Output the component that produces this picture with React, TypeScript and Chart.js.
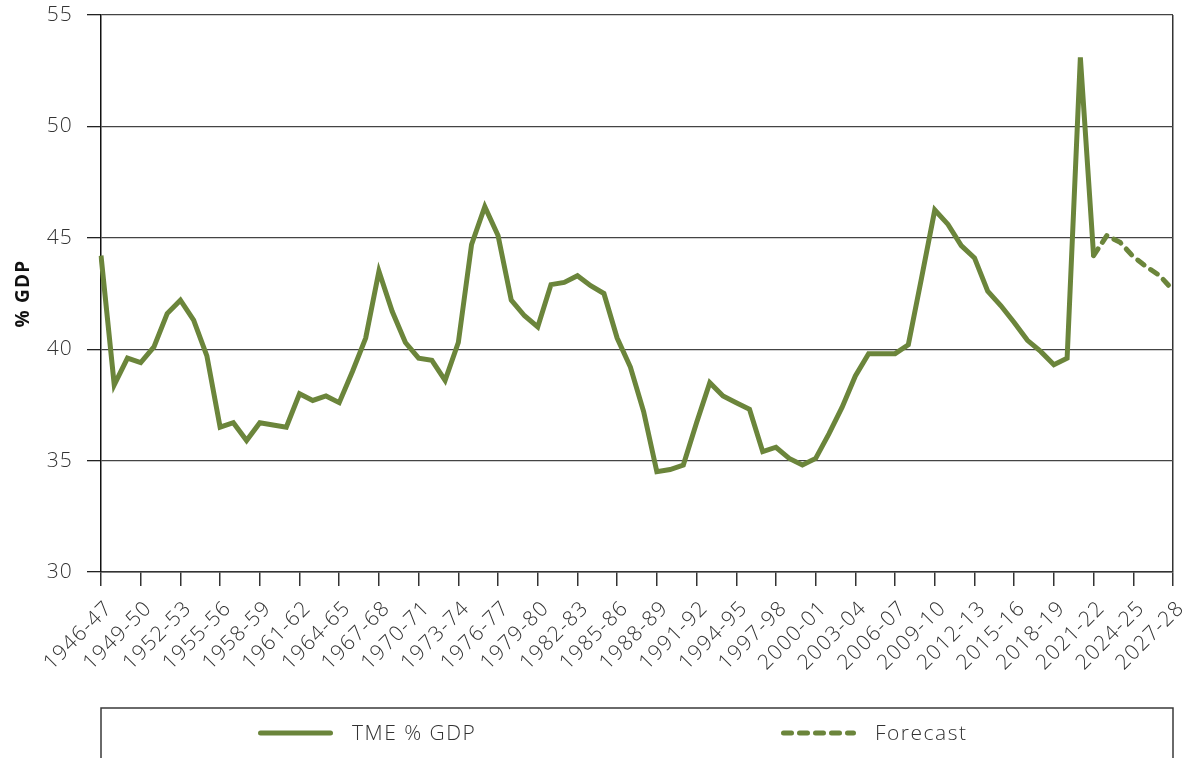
import { useEffect, useRef } from "react";
import { Chart, registerables } from "chart.js";

Chart.register(...registerables);

// ---------- data ----------
const categories: string[] = [
  "1946-47", "1947-48", "1948-49", "1949-50", "1950-51", "1951-52", "1952-53", "1953-54", "1954-55", "1955-56",
  "1956-57", "1957-58", "1958-59", "1959-60", "1960-61", "1961-62", "1962-63", "1963-64", "1964-65", "1965-66",
  "1966-67", "1967-68", "1968-69", "1969-70", "1970-71", "1971-72", "1972-73", "1973-74", "1974-75", "1975-76",
  "1976-77", "1977-78", "1978-79", "1979-80", "1980-81", "1981-82", "1982-83", "1983-84", "1984-85", "1985-86",
  "1986-87", "1987-88", "1988-89", "1989-90", "1990-91", "1991-92", "1992-93", "1993-94", "1994-95", "1995-96",
  "1996-97", "1997-98", "1998-99", "1999-00", "2000-01", "2001-02", "2002-03", "2003-04", "2004-05", "2005-06",
  "2006-07", "2007-08", "2008-09", "2009-10", "2010-11", "2011-12", "2012-13", "2013-14", "2014-15", "2015-16",
  "2016-17", "2017-18", "2018-19", "2019-20", "2020-21", "2021-22", "2022-23", "2023-24", "2024-25", "2025-26",
  "2026-27", "2027-28",
];

// Outturn, 1946-47 .. 2021-22
const tmeValues: number[] = [
  44.2, 38.4, 39.6, 39.4, 40.1, 41.6, 42.2, 41.3, 39.7, 36.5,
  36.7, 35.9, 36.7, 36.6, 36.5, 38.0, 37.7, 37.9, 37.6, 39.0,
  40.5, 43.5, 41.7, 40.3, 39.6, 39.5, 38.6, 40.3, 44.7, 46.4,
  45.1, 42.2, 41.5, 41.0, 42.9, 43.0, 43.3, 42.85, 42.5, 40.5,
  39.2, 37.2, 34.5, 34.6, 34.8, 36.7, 38.5, 37.9, 37.6, 37.3,
  35.4, 35.6, 35.1, 34.8, 35.1, 36.2, 37.4, 38.8, 39.8, 39.8,
  39.8, 40.2, 43.2, 46.25, 45.6, 44.65, 44.1, 42.6, 41.95, 41.2,
  40.4, 39.9, 39.3, 39.6, 53.1, 44.2,
];

// Forecast, 2021-22 .. 2027-28
const forecastStart = "2021-22";
const forecastValues: number[] = [44.2, 45.1, 44.8, 44.15, 43.7, 43.3, 42.65];

const yTicks: number[] = [30, 35, 40, 45, 50, 55];

const seriesNames: string[] = ["TME % GDP", "Forecast"];

// ---------- styles ----------
const GREEN = "#6b853b";
const TEXT = "#333333";
const GRID = "#444444";
const FONT = "'Open Sans', 'Lato', sans-serif";

const fStart = categories.indexOf(forecastStart);
const solidData = categories.map((_, i) => (i < tmeValues.length ? tmeValues[i] : null));
const dashedData = categories.map((_, i) =>
  i >= fStart && i - fStart < forecastValues.length ? forecastValues[i - fStart] : null
);

const legendItemX = [258, 781];

const spacing = {
  id: "spacing",
  beforeDraw(chart: any) {
    (chart.ctx as any).letterSpacing = "1.2px";
  },
};

const boxLegend = {
  id: "boxLegend",
  afterDraw(chart: any) {
    const ctx = chart.ctx as CanvasRenderingContext2D;
    const { left, right, bottom } = chart.chartArea;
    const boxTop = bottom + 136;
    const rowY = boxTop + 25;
    ctx.save();
    ctx.strokeStyle = "#3a3a3a";
    ctx.lineWidth = 1.5;
    ctx.setLineDash([]);
    ctx.beginPath();
    ctx.moveTo(left, chart.height + 5);
    ctx.lineTo(left, boxTop);
    ctx.lineTo(right, boxTop);
    ctx.lineTo(right, chart.height + 5);
    ctx.stroke();

    chart.data.datasets.forEach((ds: any, i: number) => {
      const x0 = legendItemX[i];
      ctx.save();
      ctx.strokeStyle = ds.borderColor;
      ctx.lineWidth = ds.borderWidth;
      ctx.lineCap = "round";
      ctx.setLineDash(ds.borderDash || []);
      ctx.beginPath();
      ctx.moveTo(x0 + 2.5, rowY);
      ctx.lineTo(x0 + 75 - 2.5, rowY);
      ctx.stroke();
      ctx.restore();
      ctx.save();
      (ctx as any).letterSpacing = "1.5px";
      ctx.fillStyle = TEXT;
      ctx.font = `300 21px ${FONT}`;
      ctx.textBaseline = "middle";
      ctx.textAlign = "left";
      ctx.fillText(ds.label, x0 + 94, rowY + 1);
      ctx.restore();
    });
    ctx.restore();
  },
};

export default function App() {
  const ref = useRef<HTMLCanvasElement>(null);

  useEffect(() => {
    document.body.style.margin = "0";
    const canvas = ref.current;
    if (!canvas) return;
    const chart = new Chart(canvas, {
      type: "line",
      data: {
        labels: categories,
        datasets: [
          {
            label: seriesNames[0],
            data: solidData,
            borderColor: GREEN,
            backgroundColor: GREEN,
            borderWidth: 5,
            pointRadius: 0,
            pointHoverRadius: 0,
            tension: 0,
            spanGaps: false,
          },
          {
            label: seriesNames[1],
            data: dashedData,
            borderColor: GREEN,
            backgroundColor: GREEN,
            borderWidth: 5,
            borderDash: [8, 8],
            borderCapStyle: "round",
            pointRadius: 0,
            pointHoverRadius: 0,
            tension: 0,
          },
        ],
      },
      options: {
        responsive: false,
        animation: false,
        devicePixelRatio: 1,
        layout: { padding: { left: 0, right: 17, top: 15, bottom: 60 } },
        plugins: {
          legend: { display: false },
          tooltip: { enabled: false },
        },
        scales: {
          x: {
            type: "category",
            offset: false,
            afterFit: (scale: any) => {
              scale.height = 126;
              scale.paddingLeft = 0;
              scale.paddingRight = 0;
              scale.paddingTop = 0;
              scale.paddingBottom = 0;
            },
            grid: {
              drawOnChartArea: true,
              color: (c: any) => (c.index === categories.length - 1 ? "#333333" : "rgba(0,0,0,0)"),
              tickColor: (c: any) => (c.index % 3 === 0 ? "#333333" : "rgba(0,0,0,0)"),
              tickLength: 14,
              lineWidth: 1.5,
            },
            border: { display: true, color: "#333333", width: 1.5 },
            ticks: {
              autoSkip: false,
              maxRotation: 45,
              minRotation: 45,
              padding: 10,
              labelOffset: 8,
              color: TEXT,
              font: { family: FONT, size: 21, weight: "300" as any },
              callback: (_v: any, i: number) => (i % 3 === 0 ? categories[i] : ""),
            },
          },
          y: {
            min: yTicks[0],
            max: yTicks[yTicks.length - 1],
            afterFit: (scale: any) => {
              scale.width = 101;
              scale.paddingLeft = 0;
              scale.paddingRight = 0;
              scale.paddingTop = 0;
              scale.paddingBottom = 0;
            },
            afterBuildTicks: (scale: any) => {
              scale.ticks = yTicks.map((v) => ({ value: v }));
            },
            grid: {
              color: GRID,
              lineWidth: 1.3,
              tickLength: 14,
              tickColor: "#222222",
            },
            border: { display: true, color: "#111111", width: 1.5 },
            ticks: {
              padding: 14,
              color: TEXT,
              font: { family: FONT, size: 21, weight: "300" as any },
            },
            title: {
              display: true,
              text: "% GDP",
              color: "#111111",
              padding: { top: 12, bottom: 0 },
              font: { family: FONT, size: 19, weight: "bold" },
            },
          },
        },
      },
      plugins: [spacing, boxLegend],
    });
    return () => chart.destroy();
  }, []);

  return (
    <div style={{ position: "relative", width: 1190, height: 758 }}>
      <canvas ref={ref} width={1190} height={758} style={{ display: "block" }} />
    </div>
  );
}
